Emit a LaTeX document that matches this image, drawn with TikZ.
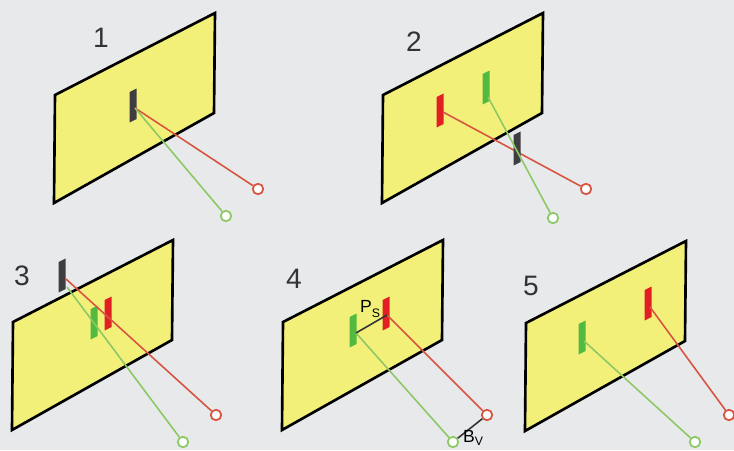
\documentclass[tikz,border=0pt]{standalone}
\usepackage{fontspec}
\setmainfont{Liberation Sans}
\definecolor{bgrey}{RGB}{232,233,235}
\definecolor{screen}{RGB}{243,240,122}
\definecolor{mred}{RGB}{226,32,36}
\definecolor{mgreen}{RGB}{82,186,62}
\definecolor{mblack}{RGB}{62,62,66}
\definecolor{rred}{RGB}{214,84,64}
\definecolor{rgreen}{RGB}{140,200,100}
\newcommand{\screenat}[2]{\filldraw[fill=screen,draw=black,line width=1.5pt,line join=miter,shift={(#1,#2)}]
  (0,0) -- (160,-82) -- (159,18) -- (-1,108) -- cycle;}
\newcommand{\markat}[3]{\fill[#1,shift={(#2,#3)}] (-3.5,-14) -- (3.5,-17.5) -- (3.5,13) -- (-3.5,16.5) -- cycle;}

\begin{document}
\begin{tikzpicture}[x=0.02cm,y=-0.02cm,
  ray/.style={line width=0.9pt},
  eye/.style={circle,draw,fill=white,line width=1pt,inner sep=0pt,minimum size=2.1mm},
  num/.style={font=\fontsize{16}{18}\selectfont,text=black!80}]
  \fill[bgrey] (0,0) rectangle (734,450);
  \useasboundingbox (0,0) rectangle (734,450);

  % 1
  \screenat{55}{95}
  \node[num] (n1) at (101,38) {1};
  \markat{mblack}{133}{106}
  \coordinate (k1) at (135,108);
  \node[eye,draw=rred] (r1) at (258,189) {};
  \node[eye,draw=rgreen] (g1) at (226,216) {};
  \draw[ray,rred] (k1) -- (r1);
  \draw[ray,rgreen] (k1) -- (g1);

  % 2
  \screenat{383}{95}
  \node[num] (n2) at (414,42) {2};
  \markat{mred}{440}{111}
  \markat{mgreen}{486}{88}
  \coordinate (kr2) at (443,112);
  \coordinate (kg2) at (488,97);
  \node[eye,draw=rred] (r2) at (586,189) {};
  \node[eye,draw=rgreen] (g2) at (553,218) {};
  \draw[ray,rred] (kr2) -- (r2);
  \markat{mblack}{517}{149}
  \draw[ray,rgreen] (kg2) -- (g2);

  % 3
  \screenat{13}{322}
  \node[num] (n3) at (22,276) {3};
  \markat{mgreen}{94}{323}
  \markat{mred}{108}{314}
  \markat{mblack}{62}{276}
  \coordinate (kr3) at (66,279);
  \coordinate (kg3) at (67,287);
  \node[eye,draw=rred] (r3) at (216,415) {};
  \node[eye,draw=rgreen] (g3) at (183,442) {};
  \draw[ray,rred] (kr3) -- (r3);
  \draw[ray,rgreen] (kg3) -- (g3);

  % 4
  \screenat{283}{322}
  \node[num] (n4) at (294,279) {4};
  \markat{mgreen}{353}{331}
  \markat{mred}{386}{314}
  \coordinate (kr4) at (387,315);
  \coordinate (kg4) at (356,333);
  \node[eye,draw=rred] (r4) at (487,415) {};
  \node[eye,draw=rgreen] (g4) at (453,442) {};
  \draw[ray,rred] (kr4) -- (r4);
  \draw[ray,rgreen] (kg4) -- (g4);
  \draw[line width=0.9pt,black!80] (kg4) -- (kr4);
  \draw[line width=0.9pt,black!80] (g4) -- (r4);
  \node[font=\fontsize{10}{11}\selectfont] (ps) at (370,309) {P\raisebox{-0.45ex}{\scriptsize S}};
  \node[font=\fontsize{10}{11}\selectfont] (bv) at (473,438) {B\raisebox{-0.4ex}{\scriptsize V}};

  % 5
  \screenat{526}{323}
  \node[num] (n5) at (531,286) {5};
  \markat{mgreen}{582}{338}
  \markat{mred}{648}{304}
  \coordinate (kr5) at (650,307);
  \coordinate (kg5) at (584,341);
  \node[eye,draw=rred] (r5) at (729,415) {};
  \node[eye,draw=rgreen] (g5) at (695,442) {};
  \draw[ray,rred] (kr5) -- (r5);
  \draw[ray,rgreen] (kg5) -- (g5);
\end{tikzpicture}
\end{document}
